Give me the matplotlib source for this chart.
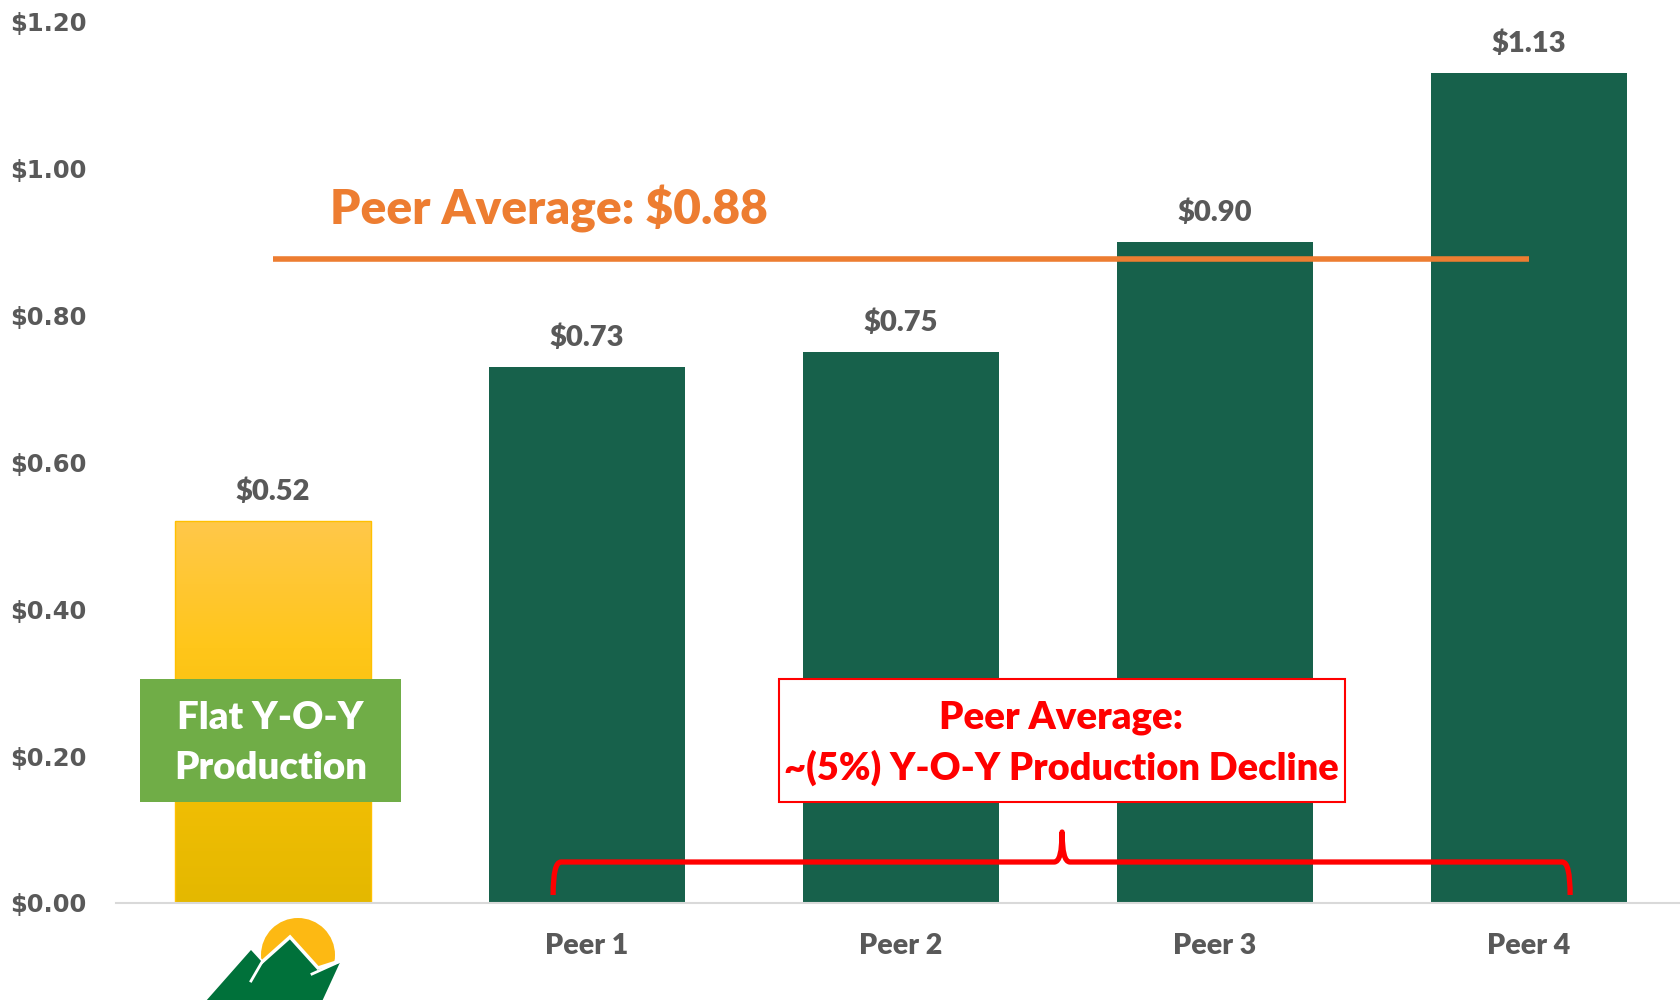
import matplotlib
matplotlib.use("Agg")
import matplotlib.pyplot as plt
import numpy as np
from matplotlib.patches import Rectangle, Circle, Polygon, PathPatch
from matplotlib.path import Path
from matplotlib.colors import LinearSegmentedColormap

# data
categories = ["", "Peer 1", "Peer 2", "Peer 3", "Peer 4"]
values = [0.52, 0.73, 0.75, 0.90, 1.13]
value_labels = ["$0.52", "$0.73", "$0.75", "$0.90", "$1.13"]
peer_avg = 0.876
yticks = [0.0, 0.2, 0.4, 0.6, 0.8, 1.0, 1.2]
ytick_labels = ["$0.00", "$0.20", "$0.40", "$0.60", "$0.80", "$1.00", "$1.20"]

CAL = ["Lato", "DejaVu Sans"]
BW = 800  # heavy-ish weight to look like Calibri bold
GRAY = "#595959"
DKGREEN = "#17614B"
ORANGE = "#ED7D31"

fig = plt.figure(figsize=(16.81, 10), dpi=100)
W, H = 1681, 1000
ax = fig.add_axes([116 / W, 97 / H, (1686 - 116) / W, (903 - 21.4) / H])

x = np.arange(len(categories))
bars = ax.bar(x, values, width=0.627, color=[DKGREEN] * len(values), zorder=2)

# gradient fill on the first bar
b0 = bars[0]
b0.set_facecolor("none")
b0.set_edgecolor("#FFC000")
b0.set_linewidth(1)
cmap = LinearSegmentedColormap.from_list("gold", ["#E4B800", "#F3BF05", "#FFC61A", "#FFC84A"])
grad = np.linspace(0, 1, 256).reshape(-1, 1)
im = ax.imshow(grad, cmap=cmap, origin="lower", aspect="auto", zorder=1.9,
               extent=[b0.get_x(), b0.get_x() + b0.get_width(), 0, b0.get_height()])
im.set_clip_path(b0)

for xi, v, lab in zip(x, values, value_labels):
    ax.annotate(lab, (xi, v), xytext=(0, 29), textcoords="offset pixels",
                ha="center", va="center", fontsize=21, fontweight=BW,
                color=GRAY, family=CAL)

ax.set_xlim(-0.5, 4.5)
ax.set_ylim(0, 1.2)
ax.set_yticks(yticks)
ax.set_yticklabels(ytick_labels, fontsize=17.5, fontweight="bold", color=GRAY,
                   family="DejaVu Sans")
ax.set_xticks(x)
ax.set_xticklabels(categories, fontsize=20.5, fontweight=BW, color=GRAY, family=CAL)
ax.tick_params(axis="y", length=0, pad=21)
ax.tick_params(axis="x", length=0, pad=21.5)
for s in ["top", "right", "left"]:
    ax.spines[s].set_visible(False)
ax.spines["bottom"].set_color("#D9D9D9")
ax.spines["bottom"].set_linewidth(1.5)

# peer average line and label
ax.plot([x[0], x[-1]], [peer_avg, peer_avg], color=ORANGE, lw=4, zorder=3,
        solid_capstyle="butt")
ax.text(0.18, 0.945, "Peer Average: $0.88", fontsize=34.5, fontweight=BW,
        color=ORANGE, family=CAL, ha="left", va="center", zorder=4)

# green callout
ax.add_patch(Rectangle((-0.424, 0.137), 0.832, 0.168, facecolor="#70AD47",
                       edgecolor="none", zorder=4))
ax.text(-0.008, 0.252, "Flat Y-O-Y", fontsize=27.6, fontweight=BW, color="white",
        family=CAL, ha="center", va="center", zorder=5)
ax.text(-0.008, 0.184, "Production", fontsize=27.6, fontweight=BW, color="white",
        family=CAL, ha="center", va="center", zorder=5)

# red callout
ax.add_patch(Rectangle((1.611, 0.137), 1.803, 0.168, facecolor="white",
                       edgecolor="#FF0000", lw=1.5, zorder=4))
ax.text(2.51, 0.252, "Peer Average:", fontsize=27.6, fontweight=BW, color="#FF0000",
        family=CAL, ha="center", va="center", zorder=5)
ax.text(2.51, 0.184, "~(5%) Y-O-Y Production Decline", fontsize=27.4, fontweight=BW,
        color="#FF0000", family=CAL, ha="center", va="center", zorder=5)

# brace under the peers
x0, x1, xc = 0.892, 4.131, 2.513
yh, ye, yp = 0.0558, 0.0109, 0.0966
dx = 0.025
verts = [(x0, ye), (x0, yh), (x0 + dx, yh),
         (xc - dx, yh), (xc, yh), (xc, yp),
         (xc, yh), (xc + dx, yh),
         (x1 - dx, yh), (x1, yh), (x1, ye)]
codes = [Path.MOVETO, Path.CURVE3, Path.CURVE3,
         Path.LINETO, Path.CURVE3, Path.CURVE3,
         Path.CURVE3, Path.CURVE3,
         Path.LINETO, Path.CURVE3, Path.CURVE3]
ax.add_patch(PathPatch(Path(verts, codes), facecolor="none", edgecolor="#FF0000",
                       lw=3.8, zorder=5, capstyle="butt", joinstyle="round"))

# logo under the first bar (pixel coords, y down)
lax = fig.add_axes([190 / W, 0, 170 / W, 90 / H])
lax.set_xlim(190, 360)
lax.set_ylim(1000, 910)
lax.axis("off")
lax.add_patch(Circle((298, 955), 37, facecolor="#FDB913", edgecolor="none"))
lax.add_patch(Polygon([(198, 1010), (251, 950), (262, 962), (290, 937), (318, 968),
                       (343, 960), (320, 1010)], closed=True, facecolor="#00713A",
                      edgecolor="white", lw=2.5))
lax.add_patch(Polygon([(198, 1010), (251, 950), (262, 962), (252, 982), (262, 1010)],
                      closed=True, facecolor="#00713A", edgecolor="none"))
lax.plot([262, 251], [962, 981], color="white", lw=2)
lax.plot([312, 343], [974, 960], color="white", lw=2)

fig.savefig("out.png", dpi=100)
